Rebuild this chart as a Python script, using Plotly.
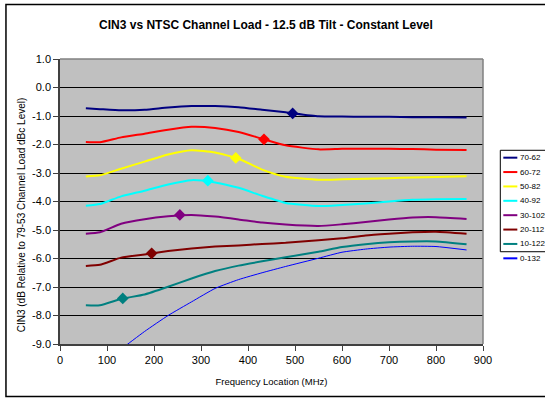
import plotly.graph_objects as go

freq = [55, 85, 130, 180, 230, 280, 330, 380, 430, 480, 550, 600, 650, 700, 750, 800, 865]

series_names = ["70-62", "60-72", "50-82", "40-92", "30-102", "20-112", "10-122", "0-132"]
series_colors = ["#000080", "#FF0000", "#FFFF00", "#00FFFF", "#800080", "#800000", "#008080", "#0000FF"]
series_widths = [2, 2, 2, 2, 2, 2, 2, 1]

s70_62 = [-0.73, -0.76, -0.80, -0.78, -0.70, -0.65, -0.65, -0.69, -0.78, -0.87, -1.01, -1.02, -1.03, -1.03, -1.04, -1.04, -1.05]
s60_72 = [-1.91, -1.92, -1.75, -1.62, -1.48, -1.38, -1.42, -1.56, -1.80, -2.03, -2.17, -2.15, -2.15, -2.15, -2.16, -2.18, -2.19]
s50_82 = [-3.12, -3.08, -2.85, -2.60, -2.35, -2.20, -2.28, -2.50, -2.88, -3.13, -3.24, -3.22, -3.20, -3.18, -3.16, -3.14, -3.11]
s40_92 = [-4.15, -4.09, -3.82, -3.62, -3.40, -3.25, -3.33, -3.52, -3.80, -4.05, -4.16, -4.12, -4.07, -4.00, -3.94, -3.92, -3.91]
s30_102 = [-5.13, -5.08, -4.78, -4.62, -4.52, -4.47, -4.53, -4.63, -4.74, -4.81, -4.86, -4.80, -4.72, -4.63, -4.56, -4.55, -4.61]
s20_112 = [-6.26, -6.22, -5.97, -5.86, -5.74, -5.65, -5.58, -5.54, -5.49, -5.45, -5.36, -5.29, -5.19, -5.13, -5.08, -5.06, -5.13]
s10_122 = [-7.64, -7.64, -7.42, -7.26, -6.99, -6.70, -6.44, -6.25, -6.10, -5.96, -5.76, -5.60, -5.50, -5.43, -5.40, -5.40, -5.50]
s0_132 = [-10.2, -9.75, -9.18, -8.56, -8.00, -7.52, -7.05, -6.74, -6.50, -6.28, -5.99, -5.78, -5.67, -5.60, -5.57, -5.58, -5.70]
series_values = [s70_62, s60_72, s50_82, s40_92, s30_102, s20_112, s10_122, s0_132]

# highlighted points (diamond markers); None = no marker
marker_freq = [495, 434, 374, 314.5, 255, 195, 133.5, None]
marker_val = [-0.91, -1.82, -2.47, -3.27, -4.47, -5.82, -7.40, None]

y_ticks = [1.0, 0.0, -1.0, -2.0, -3.0, -4.0, -5.0, -6.0, -7.0, -8.0, -9.0]
x_ticks = [0, 100, 200, 300, 400, 500, 600, 700, 800, 900]

W, H = 545, 398
ML, MR, MT, MB = 60, 62.3, 59.3, 49.3
PW = W - ML - MR
PH = H - MT - MB

def px_x(px):
    return (px - ML) / PW

def px_y(py):
    return (H - MB - py) / PH

fig = go.Figure()
for name, col, w, vals in zip(series_names, series_colors, series_widths, series_values):
    fig.add_trace(go.Scatter(x=freq, y=vals, mode="lines", name=name,
                             line=dict(color=col, width=w, shape="spline", smoothing=0.5),
                             showlegend=False, hoverinfo="skip"))
for name, col, mf, mv in zip(series_names, series_colors, marker_freq, marker_val):
    if mf is None:
        continue
    fig.add_trace(go.Scatter(x=[mf], y=[mv], mode="markers", name=name,
                             marker=dict(symbol="diamond", size=9, color=col),
                             showlegend=False, hoverinfo="skip"))

shapes = []
annotations = []
# outer chart border
shapes.append(dict(type="rect", xref="paper", yref="paper",
                   x0=px_x(6), x1=px_x(549), y0=px_y(402), y1=px_y(4),
                   line=dict(color="black", width=1.5), fillcolor="rgba(0,0,0,0)"))
# top and right plot border
shapes.append(dict(type="line", xref="paper", yref="paper", x0=0, x1=1, y0=1, y1=1,
                   line=dict(color="#808080", width=1.5)))
shapes.append(dict(type="line", xref="paper", yref="paper", x0=1, x1=1, y0=0, y1=1,
                   line=dict(color="#808080", width=1.5)))
# legend box
shapes.append(dict(type="rect", xref="paper", yref="paper",
                   x0=px_x(500), x1=px_x(560), y0=px_y(255), y1=px_y(152),
                   line=dict(color="black", width=1), fillcolor="white"))
for i, (name, col) in enumerate(zip(series_names, series_colors)):
    yc = 159.5 + i * 14.6
    shapes.append(dict(type="line", xref="paper", yref="paper",
                       x0=px_x(503), x1=px_x(517), y0=px_y(yc), y1=px_y(yc),
                       line=dict(color=col, width=2)))
    annotations.append(dict(text=name, xref="paper", yref="paper", x=px_x(517.5), y=px_y(yc),
                            xanchor="left", yanchor="middle", showarrow=False,
                            font=dict(family="Liberation Sans, Arial", size=8, color="black")))

# y axis title placed like the original (slightly below the plot centre)
annotations.append(dict(text="CIN3 (dB Relative to 79-53 Channel Load dBc Level)",
                        xref="paper", yref="paper", x=px_x(21), y=px_y(217),
                        xanchor="center", yanchor="middle", textangle=-90, showarrow=False,
                        font=dict(family="Liberation Sans, Arial", size=10, color="black")))

fig.update_layout(
    width=W, height=H,
    margin=dict(l=ML, r=MR, t=MT, b=MB),
    paper_bgcolor="white",
    plot_bgcolor="#C0C0C0",
    title=dict(text="<b>CIN3 vs NTSC Channel Load - 12.5 dB Tilt - Constant Level</b>",
               x=0.488, xanchor="center", y=1 - 25 / H, yanchor="middle",
               font=dict(family="Liberation Sans, Arial", size=12, color="black")),
    font=dict(family="Liberation Sans, Arial", color="black"),
    shapes=shapes,
    annotations=annotations,
    xaxis=dict(range=[0, 900], tickvals=x_ticks, ticktext=[str(v) for v in x_ticks],
               showgrid=False, zeroline=False, showline=True, linecolor="#404040", linewidth=1.5,
               ticks="outside", ticklen=5, tickcolor="#404040", tickfont=dict(size=11),
               title=dict(text="Frequency Location (MHz)", font=dict(size=9.5), standoff=13)),
    yaxis=dict(range=[-9, 1], tickvals=y_ticks, ticktext=["%.1f" % v for v in y_ticks],
               showgrid=True, gridcolor="black", gridwidth=1, zeroline=False,
               showline=True, linecolor="#404040", linewidth=1.5,
               ticks="outside", ticklen=5, tickcolor="#404040", tickfont=dict(size=11)),
)

fig.write_html("out.html", config={"displayModeBar": False},
               post_script="document.body.style.margin='0';document.body.style.padding='0';")
